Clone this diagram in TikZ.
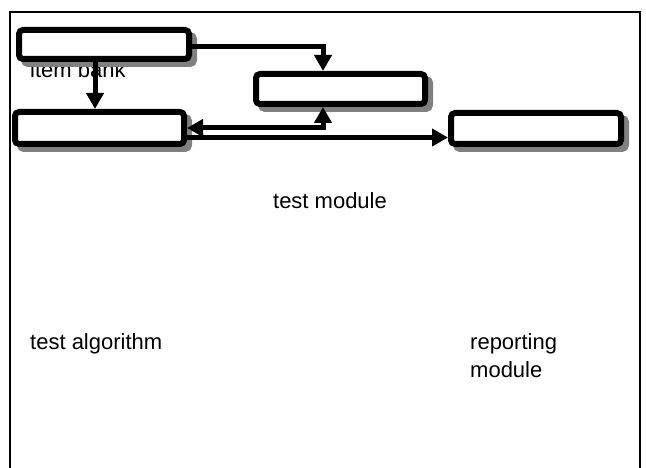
\documentclass[tikz,border=0pt]{standalone}
\usepackage{fontspec}
\setmainfont{Liberation Sans}
\usetikzlibrary{arrows.meta,shadows}
\begin{document}
\begin{tikzpicture}[x=1pt,y=-1pt,
  box/.style={draw=black, fill=white, line width=6pt, rounded corners=4pt, inner sep=0pt,
    drop shadow={shadow xshift=5pt, shadow yshift=-5pt, fill=black!50, draw=black!50, line width=6pt, opacity=1}},
  tip/.tip={Triangle[length=16pt,width=17pt]},
  arr/.style={line width=5pt, -tip},
  lbl/.style={font=\fontsize{22}{28}\selectfont, inner sep=0pt, align=left}]
\useasboundingbox (0,0) rectangle (646,468);
\draw[line width=1.5pt] (10,480) -- (10,12) -- (640,12) -- (640,480);
% labels
\node[lbl, anchor=base west] (lbank) at (30,78) {item bank};
\node[lbl, anchor=base] (lmod) at (330,209) {test module};
\node[lbl, anchor=base west] (lalg) at (30,349) {test algorithm};
\node[lbl, anchor=north west] (lrep) at (470,333) {reporting\\module};
% boxes
\node[box, minimum width=170pt, minimum height=29pt] (A) at (104,44.5) {};
\node[box, minimum width=169pt, minimum height=30pt] (B) at (340.5,89) {};
\node[box, minimum width=169pt, minimum height=32pt] (C) at (99.5,128) {};
\node[box, minimum width=170pt, minimum height=31pt] (D) at (536,128.5) {};
% connectors
\draw[arr] ([yshift=-2.5pt]A.east) -| ([xshift=-17.5pt]B.north);
\draw[arr] ([xshift=-9pt]A.south) -- ([xshift=-9pt]A.south |- C.north);
\draw[arr, tip-tip] (C.east) -| ([xshift=-17.5pt]B.south);
\draw[arr] ([yshift=-9.5pt]C.east) -- ([yshift=-9.5pt]C.east -| D.west);
\end{tikzpicture}
\end{document}
